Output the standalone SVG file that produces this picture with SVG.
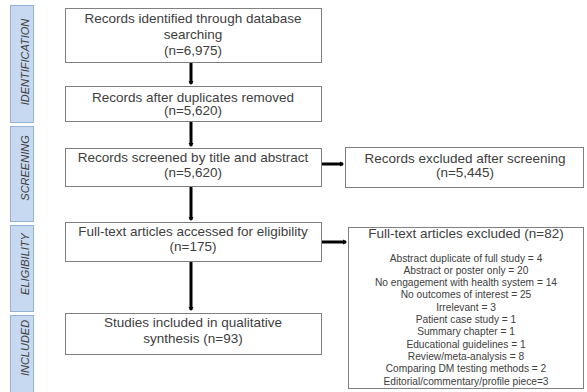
<svg xmlns="http://www.w3.org/2000/svg" width="587" height="392" viewBox="0 0 587 392">
<style>
.tab{fill:#c6d9f0;stroke:#95b3d7;stroke-width:1}
.tabt{font-family:"Liberation Sans",Arial,sans-serif;font-size:11px;font-style:italic;fill:#404040;text-anchor:middle}
.box{fill:#fff;stroke:#808080;stroke-width:1}
.t{font-family:"Liberation Sans",Arial,sans-serif;font-size:13.5px;fill:#404040;text-anchor:middle}
.s{font-family:"Liberation Sans",Arial,sans-serif;font-size:10.2px;fill:#404040;text-anchor:middle}
.c{stroke:#000;stroke-width:3;fill:none;marker-end:url(#ah)}
</style>
<defs>
<marker id="ah" markerWidth="6" markerHeight="6" refX="3" refY="3" orient="auto" markerUnits="userSpaceOnUse">
<path d="M0,0.5 L4,3 L0,5.5 Z" fill="#000"/>
</marker>
</defs>
<rect width="587" height="392" fill="#fff"/>
<g id="tab-identification"><rect class="tab" x="10.5" y="5.5" width="23" height="117"/><text class="tabt" transform="translate(29,62) rotate(-90)">IDENTIFICATION</text></g>
<g id="tab-screening"><rect class="tab" x="10.5" y="126.5" width="23" height="95"/><text class="tabt" transform="translate(29,168) rotate(-90)">SCREENING</text></g>
<g id="tab-eligibility"><rect class="tab" x="10.5" y="225.5" width="23" height="86"/><text class="tabt" transform="translate(29,264) rotate(-90)">ELIGIBILITY</text></g>
<g id="tab-included"><rect class="tab" x="10.5" y="315.5" width="23" height="80"/><text class="tabt" transform="translate(29,348) rotate(-90)">INCLUDED</text></g>

<g id="connectors">
<line class="c" x1="191" y1="62" x2="191" y2="84"/>
<line class="c" x1="191" y1="121" x2="191" y2="146"/>
<line class="c" x1="191" y1="186" x2="191" y2="220"/>
<line class="c" x1="191" y1="261" x2="191" y2="310"/>
<line class="c" x1="321" y1="164" x2="343" y2="164"/>
<line class="c" x1="321" y1="242" x2="346" y2="242"/>
</g>

<g id="n1"><rect class="box" x="65.5" y="8.5" width="256" height="54"/>
<text class="t" x="193" y="23">Records identified through database</text>
<text class="t" x="193" y="38.5">searching</text>
<text class="t" x="193" y="54.5">(n=6,975)</text></g>
<g id="n2"><rect class="box" x="65.5" y="86.5" width="256" height="35"/>
<text class="t" x="193" y="101.5">Records after duplicates removed</text>
<text class="t" x="193" y="115">(n=5,620)</text></g>
<g id="n3"><rect class="box" x="65.5" y="148.5" width="256" height="38"/>
<text class="t" x="193" y="161.5">Records screened by title and abstract</text>
<text class="t" x="193" y="176.5">(n=5,620)</text></g>
<g id="n4"><rect class="box" x="65.5" y="222.5" width="256" height="39"/>
<text class="t" x="193" y="235.5">Full-text articles accessed for eligibility</text>
<text class="t" x="193" y="251">(n=175)</text></g>
<g id="n5"><rect class="box" x="65.5" y="313.5" width="256" height="41"/>
<text class="t" x="193" y="327">Studies included in qualitative</text>
<text class="t" x="193" y="343">synthesis (n=93)</text></g>
<g id="r1"><rect class="box" x="345.5" y="147.5" width="238" height="40"/>
<text class="t" x="465" y="162.5">Records excluded after screening</text>
<text class="t" x="465" y="177">(n=5,445)</text></g>
<g id="r2"><rect class="box" x="348.5" y="227.5" width="235" height="161"/>
<text class="t" x="466" y="238">Full-text articles excluded  (n=82)</text>
<text class="s" x="466" y="261.5">Abstract duplicate of full study = 4</text>
<text class="s" x="466" y="273.8">Abstract or poster only = 20</text>
<text class="s" x="466" y="286.1">No engagement with health system = 14</text>
<text class="s" x="466" y="298.4">No outcomes of interest = 25</text>
<text class="s" x="466" y="310.7">Irrelevant  = 3</text>
<text class="s" x="466" y="323">Patient case study = 1</text>
<text class="s" x="466" y="335.3">Summary chapter = 1</text>
<text class="s" x="466" y="347.6">Educational guidelines = 1</text>
<text class="s" x="466" y="359.9">Review/meta-analysis  = 8</text>
<text class="s" x="466" y="372.2">Comparing DM testing methods = 2</text>
<text class="s" x="466" y="384.5">Editorial/commentary/profile piece=3</text></g>
</svg>
